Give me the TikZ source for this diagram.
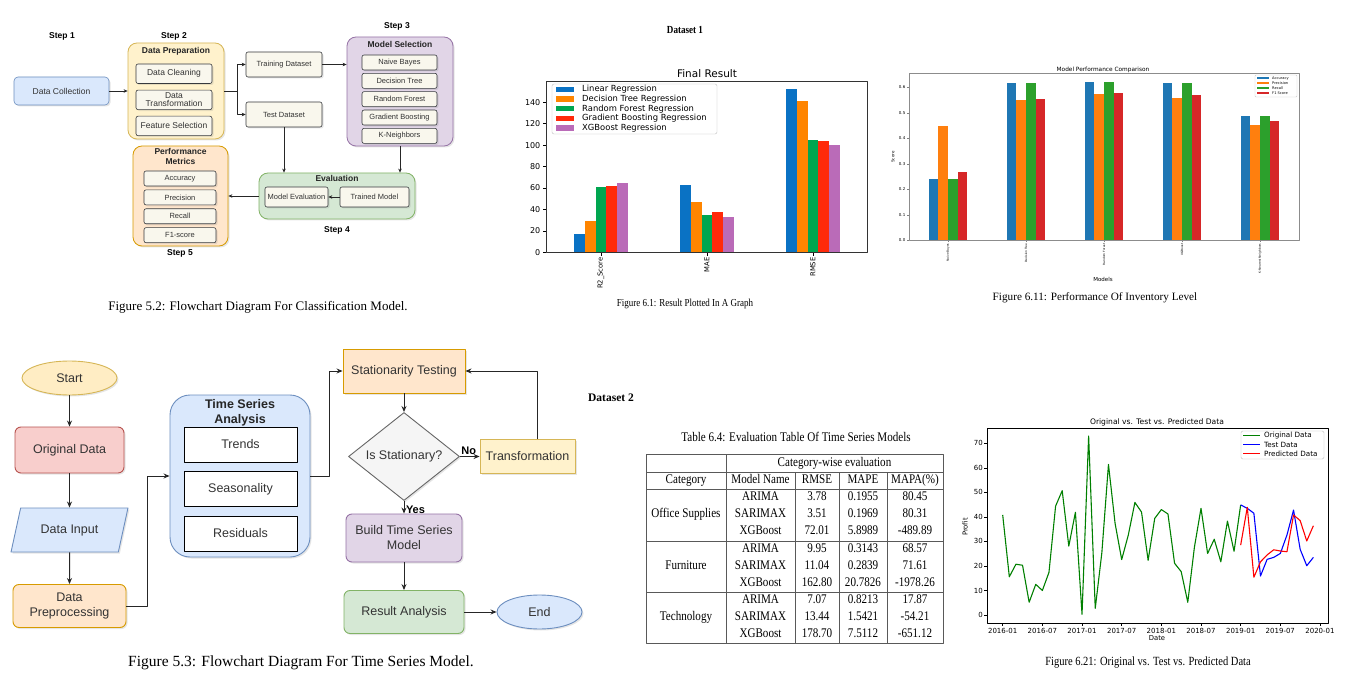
\documentclass[tikz,border=0pt]{standalone}
\usepackage{fontspec}
\setmainfont{Liberation Serif}
\setsansfont{Liberation Sans}
\newfontfamily\condserif[FakeStretch=0.84]{Liberation Serif}
\newfontfamily\plotfont{DejaVu Sans}
\usetikzlibrary{arrows.meta, positioning, shapes.geometric, shadows}

% draw.io colours
\definecolor{ioblue}{HTML}{DAE8FC}
\definecolor{iobluel}{HTML}{6C8EBF}
\definecolor{ioyellow}{HTML}{FFF2CC}
\definecolor{ioyellowl}{HTML}{D6B656}
\definecolor{iostart}{HTML}{FFEDC4}
\definecolor{ioorange}{HTML}{FFE6CC}
\definecolor{ioorangel}{HTML}{D79B00}
\definecolor{iopurple}{HTML}{E1D5E7}
\definecolor{iopurplel}{HTML}{9673A6}
\definecolor{iogreen}{HTML}{D5E8D4}
\definecolor{iogreenl}{HTML}{82B366}
\definecolor{iored}{HTML}{F8CECC}
\definecolor{ioredl}{HTML}{B85450}
\definecolor{iocream}{HTML}{F9F7ED}
\definecolor{iocreaml}{HTML}{36393D}
\definecolor{iogray}{HTML}{F5F5F5}
\definecolor{iograyl}{HTML}{666666}
\definecolor{iotext}{HTML}{333333}
% plot colours
\definecolor{rblue}{HTML}{0A72C4}
\definecolor{rorange}{HTML}{FF8500}
\definecolor{rgreen}{HTML}{00A650}
\definecolor{rred}{HTML}{FF2A0A}
\definecolor{rpurple}{HTML}{BA6BB8}
\definecolor{tblue}{HTML}{1F77B4}
\definecolor{torange}{HTML}{FF7F0E}
\definecolor{tgreen}{HTML}{2CA02C}
\definecolor{tred}{HTML}{D62728}
\definecolor{mgreen}{HTML}{008000}

\tikzset{
  dshadow/.style={drop shadow={opacity=0.2, shadow xshift=1.5pt, shadow yshift=-1.5pt}},
  block/.style={
    rectangle,
    draw=iocreaml,
    fill=iocream,
    rounded corners=2pt,
    text=iotext,
    inner sep=1pt,
    line width=0.6pt,
    font=\sffamily\fontsize{7.5}{9}\selectfont,
    dshadow
  },
  prepitem/.style={minimum width=76pt, minimum height=19.5pt, font=\sffamily\fontsize{8.5}{8.5}\selectfont},
  listitem/.style={minimum width=75pt, minimum height=15pt},
  metricitem/.style={minimum width=72pt, minimum height=15pt},
  container/.style={rectangle, rounded corners=9pt, line width=0.8pt, dshadow},
  boxtitle/.style={font=\sffamily\bfseries\fontsize{8.5}{9.5}\selectfont, text=black!85, inner sep=1pt},
  steplabel/.style={font=\sffamily\bfseries\fontsize{8.5}{10}\selectfont},
  arrow/.style={-{Stealth[length=4pt, width=3.5pt]}, line width=0.6pt, draw=black!85},
  tsnode/.style={
    draw,
    line width=0.9pt,
    text=iotext,
    inner sep=1pt,
    font=\sffamily\fontsize{12.5}{15}\selectfont,
    dshadow
  },
  tsitem/.style={rectangle, draw=black, fill=white, line width=1pt, minimum width=113pt, minimum height=35pt,
    text=iotext, font=\sffamily\fontsize{12.5}{15}\selectfont},
  tsarrow/.style={-{Stealth[length=6pt, width=5pt]}, line width=1pt, draw=black!85},
  yesno/.style={font=\sffamily\bfseries\fontsize{11}{13}\selectfont, inner sep=1.5pt},
  caption/.style={font=\rmfamily\fontsize{13}{15}\selectfont},
  condcaption/.style={font=\condserif\fontsize{12.5}{15}\selectfont},
  tabtext/.style={font=\condserif\fontsize{13.2}{15}\selectfont, text height=8.8pt, text depth=2.6pt, inner sep=0pt},
  tabline/.style={draw=black!65, line width=0.7pt},
  ticklabel/.style={font=\plotfont\fontsize{8}{9}\selectfont, inner sep=1pt}
}

\begin{document}
\begin{tikzpicture}[x=1pt, y=-1pt, >=Stealth, line join=round]
\fill[white] (0,0) rectangle (1350,679);
\useasboundingbox (0,0) rectangle (1350,679);

% --- Figure 5.2: classification flowchart ---
\node (step1) [steplabel] at (62,36) {Step 1};
\node (step2) [steplabel] at (174,36) {Step 2};
\node (step3) [steplabel] at (397,26) {Step 3};
\node (step4) [steplabel] at (337,230) {Step 4};
\node (step5) [steplabel] at (180,253) {Step 5};

\node (datacol) [block, fill=ioblue, draw=iobluel, rounded corners=4pt, minimum width=95pt, minimum height=28pt, font=\sffamily\fontsize{8.5}{10}\selectfont] at (61.5,91) {Data Collection};

\node (prep) [container, fill=ioyellow, draw=ioyellowl, minimum width=96pt, minimum height=96pt] at (176,91) {};
\node (preptitle) [boxtitle, below=3.5pt] at (prep.north) {Data Preparation};
\node (clean) [block, prepitem] at (174,73.75) {Data Cleaning};
\node (transform) [block, prepitem, below=6pt of clean, align=center] {Data\\Transformation};
\node (featsel) [block, prepitem, below=6pt of transform] {Feature Selection};

\node (train) [block, minimum width=76pt, minimum height=25pt] at (284,64.5) {Training Dataset};
\node (test) [block, minimum width=76pt, minimum height=25pt] at (284,114.5) {Test Dataset};

\node (modsel) [container, fill=iopurple, draw=iopurplel, minimum width=106pt, minimum height=109pt] at (400,91.5) {};
\node (modseltitle) [boxtitle, below=3.5pt] at (modsel.north) {Model Selection};
\node (nb) [block, listitem] at (399.5,62.5) {Naive Bayes};
\node (dt) [block, listitem, below=2.75pt of nb] {Decision Tree};
\node (rf) [block, listitem, below=2.75pt of dt] {Random Forest};
\node (gb) [block, listitem, below=2.75pt of rf] {Gradient Boosting};
\node (knn) [block, listitem, below=2.75pt of gb] {K-Neighbors};

\node (eval) [container, fill=iogreen, draw=iogreenl, minimum width=156pt, minimum height=46pt] at (337,196) {};
\node (evaltitle) [boxtitle, below=1.5pt] at (eval.north) {Evaluation};
\node (modeval) [block, minimum width=63pt, minimum height=20pt] at (296.5,197) {Model Evaluation};
\node (trained) [block, minimum width=69pt, minimum height=20pt] at (374.5,197) {Trained Model};

\node (perf) [container, fill=ioorange, draw=ioorangel, minimum width=95pt, minimum height=100pt] at (180.5,196) {};
\node (perftitle) [boxtitle, below=2pt, align=center] at (perf.north) {Performance\\Metrics};
\node (acc) [block, metricitem] at (180,178.5) {Accuracy};
\node (prec) [block, metricitem, below=3.3pt of acc] {Precision};
\node (rec) [block, metricitem, below=3.3pt of prec] {Recall};
\node (fone) [block, metricitem, below=3.3pt of rec] {F1-score};

\coordinate (split) at (237,91);
\draw[arrow] (datacol.east) -- (datacol.east -| prep.west);
\draw[line width=0.6pt, black!85] (prep.east) -- (split);
\draw[arrow] (split) |- (train.west);
\draw[arrow] (split) |- (test.west);
\draw[arrow] (train.east) -- (train.east -| modsel.west);
\draw[arrow] (test.south) -- (test.south |- eval.north);
\draw[arrow] (modsel.south) -- (modsel.south |- eval.north);
\draw[arrow] (trained.west) -- (modeval.east);
\draw[arrow] (eval.west) -- (perf.east);

\node (cap52) [caption] at (258,307) {Figure 5.2: Flowchart Diagram For Classification Model.};

% --- Figure 6.1: final result chart ---
\node (ds1) [font=\condserif\bfseries\fontsize{10.8}{13}\selectfont] at (685,30) {Dataset 1};
\node (frtitle) [font=\plotfont\fontsize{10.5}{12}\selectfont] at (707,74) {Final Result};
\begin{scope}[shift={(546,252.3)}, y=1.0714pt]
  \foreach \gx/\va/\vb/\vc/\vd/\ve in {55/17/29/61/61.5/64.5, 161/63/47/34.5/37.5/32.5, 267/152/141/104.5/104/100}
    \foreach \i/\v/\c in {0/\va/rblue, 1/\vb/rorange, 2/\vc/rgreen, 3/\vd/rred, 4/\ve/rpurple}
      \fill[\c] (\gx+\i*10.67-26.67,0) rectangle ++(10.67,\v);
  \foreach \v in {0,20,...,140} {
    \draw[line width=0.6pt] (0,\v) -- ++(-3.5,0);
    \node[ticklabel, anchor=east] at (-4.5,\v) {\v};
  }
  \foreach \gx/\lbl in {55/R2\_Score, 161/MAE, 267/RMSE} {
    \draw[line width=0.6pt] (\gx,0) -- ([yshift=-3.5pt]\gx,0);
    \node[rotate=90, anchor=east, inner sep=0pt, font=\plotfont\fontsize{6.8}{8}\selectfont] at ([yshift=-5pt]\gx,0) {\lbl};
  }
  \draw[line width=0.7pt, black!80] (0,0) rectangle (321,159.9);
\end{scope}
\draw[black!25, fill=white, rounded corners=2pt] (552,84) rectangle (717,134);
\foreach \ly/\c/\lbl [count=\k] in {89.3/rblue/Linear Regression, 99/rorange/Decision Tree Regression, 108.7/rgreen/Random Forest Regression, 118.4/rred/Gradient Boosting Regression, 128.1/rpurple/XGBoost Regression} {
  \fill[\c] (556,\ly-2.6) rectangle (574,\ly+2.6);
  \node (frleg\k) [anchor=west, font=\plotfont\fontsize{8.4}{10}\selectfont, inner sep=0pt] at (582,\ly) {\lbl};
}
\node (cap61) [font=\condserif\fontsize{10.7}{13}\selectfont] at (685,304) {Figure 6.1: Result Plotted In A Graph};

% --- Figure 6.11: model performance chart ---
\node (mpctitle) [font=\plotfont\fontsize{5.8}{7}\selectfont] at (1103,70) {Model Performance Comparison};
\begin{scope}[shift={(909,240.3)}, y=255pt]
  \foreach \gx/\va/\vb/\vc/\vd in {39/0.239/0.448/0.239/0.267, 117/0.617/0.550/0.617/0.555, 195/0.622/0.572/0.622/0.579, 273/0.617/0.559/0.617/0.570, 351/0.487/0.451/0.487/0.468}
    \foreach \i/\v/\c in {0/\va/tblue, 1/\vb/torange, 2/\vc/tgreen, 3/\vd/tred}
      \fill[\c] (\gx+\i*9.67-19.34,0) rectangle ++(9.67,\v);
  \foreach \k in {0,...,6} {
    \draw[black!50, line width=0.4pt] (0,\k/10) -- ++(-2,0);
    \node[anchor=east, font=\plotfont\fontsize{4}{5}\selectfont, inner sep=0.5pt] at (-3,\k/10) {0.\k};
  }
  \foreach \gx/\lbl in {39/Naive Bayes, 117/Decision Tree, 195/Random Forest, 273/XGBoost, 351/K-Nearest Neighbors} {
    \draw[black!50, line width=0.4pt] (\gx,0) -- ([yshift=-2pt]\gx,0);
    \node[rotate=90, anchor=east, font=\plotfont\fontsize{2.9}{4}\selectfont, inner sep=0pt] at ([yshift=-3pt]\gx,0) {\lbl};
  }
  \draw[black!45, line width=0.7pt] (0,0) rectangle (390,0.656);
\end{scope}
\draw[black!20, fill=white, rounded corners=1pt] (1255,75) rectangle (1297,97);
\foreach \ly/\c/\lbl [count=\k] in {78.3/tblue/Accuracy, 83.3/torange/Precision, 88.3/tgreen/Recall, 93.3/tred/F1 Score} {
  \fill[\c] (1257,\ly-1.2) rectangle (1269,\ly+1.2);
  \node (mpcleg\k) [anchor=west, font=\plotfont\fontsize{3.6}{4}\selectfont, inner sep=0pt] at (1272,\ly) {\lbl};
}
\node (mpcy) [rotate=90, font=\plotfont\fontsize{4}{5}\selectfont] at (893,157) {Score};
\node (mpcx) [font=\plotfont\fontsize{5.5}{6}\selectfont] at (1103,279) {Models};
\node (cap611) [font=\rmfamily\fontsize{11.2}{13}\selectfont] at (1095,298) {Figure 6.11: Performance Of Inventory Level};

% --- Figure 5.3: time series flowchart ---
\node (start) [ellipse, tsnode, fill=iostart, draw=ioyellowl, minimum width=95pt, minimum height=34pt, inner sep=0pt] at (69.5,378) {Start};
\node (origdata) [tsnode, rounded corners=6pt, fill=iored, draw=ioredl, minimum width=109pt, minimum height=46pt] at (69.5,450) {Original Data};
\node (datainput) [trapezium, trapezium left angle=66, trapezium right angle=114, trapezium stretches=true, tsnode, fill=ioblue, draw=iobluel, minimum width=117pt, minimum height=44pt] at (69.5,530) {Data Input};
\node (preproc) [tsnode, rounded corners=6pt, fill=ioorange, draw=ioorangel, minimum width=113pt, minimum height=43pt, align=center] at (69.5,606) {Data\\Preprocessing};

\node (tsa) [container, rounded corners=20pt, line width=0.9pt, fill=ioblue, draw=iobluel, minimum width=140pt, minimum height=162pt] at (240,476) {};
\node (tsatitle) [font=\sffamily\bfseries\fontsize{12.5}{15}\selectfont, text=black!85, below=1.5pt, align=center] at (tsa.north) {Time Series\\Analysis};
\node (trends) [tsitem] at (240.5,444.5) {Trends};
\node (season) [tsitem, below=8.5pt of trends] {Seasonality};
\node (resid) [tsitem, below=8.5pt of season] {Residuals};

\node (stattest) [tsnode, fill=ioorange, draw=ioorangel, minimum width=122pt, minimum height=44pt] at (404,371) {Stationarity Testing};
\node (isstat) [diamond, tsnode, fill=iogray, draw=iograyl, minimum width=111pt, minimum height=59pt, inner sep=0pt] at (404,456.5) {Is Stationary?};
\node (transf) [tsnode, fill=ioyellow, draw=ioyellowl, minimum width=95pt, minimum height=34pt] at (527.5,456.5) {Transformation};
\node (buildmodel) [tsnode, rounded corners=6pt, fill=iopurple, draw=iopurplel, minimum width=116pt, minimum height=48pt, align=center] at (404,538) {Build Time Series\\Model};
\node (resultan) [tsnode, rounded corners=6pt, fill=iogreen, draw=iogreenl, minimum width=120pt, minimum height=43pt] at (404,612) {Result Analysis};
\node (finish) [ellipse, tsnode, fill=ioblue, draw=iobluel, minimum width=85pt, minimum height=34pt, inner sep=0pt] at (539.5,612) {End};

\coordinate (bendA) at (147,476);
\coordinate (bendB) at (329,371);
\draw[tsarrow] (start) -- (origdata);
\draw[tsarrow] (origdata) -- (datainput);
\draw[tsarrow] (datainput) -- (preproc);
\draw[tsarrow] (preproc.east) -| (bendA) -- (tsa.west);
\draw[tsarrow] (tsa.east) -| (bendB) -- (stattest.west);
\draw[tsarrow] (stattest) -- (isstat);
\draw[tsarrow] (isstat) -- node[yesno, above, pos=0.45] {No} (transf);
\draw[tsarrow] ([xshift=10pt]transf.north) |- (stattest.east);
\draw[tsarrow] (isstat) -- node[yesno, right, pos=0.68] {Yes} (buildmodel);
\draw[tsarrow] (buildmodel) -- (resultan);
\draw[tsarrow] (resultan) -- (finish);

\node (cap53) [font=\rmfamily\fontsize{15.5}{18}\selectfont] at (301,663) {Figure 5.3: Flowchart Diagram For Time Series Model.};

% --- Table 6.4 ---
\node (ds2) [font=\rmfamily\bfseries\fontsize{11.5}{13}\selectfont] at (611,398) {Dataset 2};
\node (tabcap) [font=\condserif\fontsize{13.2}{15}\selectfont] at (796,437) {Table 6.4: Evaluation Table Of Time Series Models};
\draw[tabline] (646,454) rectangle (943,643);
\foreach \ly in {472,489,541,592} \draw[tabline] (646,\ly) -- (943,\ly);
\draw[tabline] (726,454) -- (726,643);
\foreach \cx in {795,839,887} \draw[tabline] (\cx,472) -- (\cx,643);
\node (tabhead) [tabtext] at (834.5,463) {Category-wise evaluation};
\foreach \cx/\txt [count=\k] in {686/Category, 760.5/Model Name, 817/RMSE, 863/MAPE, 915/MAPA(\%)}
  \node (head\k) [tabtext] at (\cx,480.5) {\txt};
\foreach \ry/\mname/\rmse/\mape/\mapa [count=\k] in {
  497.5/ARIMA/3.78/0.1955/80.45, 514.5/SARIMAX/3.51/0.1969/80.31, 531.5/XGBoost/72.01/5.8989/-489.89,
  549.5/ARIMA/9.95/0.3143/68.57, 566.5/SARIMAX/11.04/0.2839/71.61, 583.5/XGBoost/162.80/20.7826/-1978.26,
  600.5/ARIMA/7.07/0.8213/17.87, 617.5/SARIMAX/13.44/1.5421/-54.21, 634.5/XGBoost/178.70/7.5112/-651.12} {
  \node (mn\k) [tabtext] at (760.5,\ry) {\mname};
  \node (rm\k) [tabtext] at (817,\ry) {\rmse};
  \node (mp\k) [tabtext] at (863,\ry) {\mape};
  \node (ma\k) [tabtext] at (915,\ry) {\mapa};
}
\node (catos) [tabtext] at (686,514.5) {Office Supplies};
\node (catfu) [tabtext] at (686,566.5) {Furniture};
\node (catte) [tabtext] at (686,617.5) {Technology};

% --- Figure 6.21: original vs test vs predicted ---
\node (ovptitle) [font=\plotfont\fontsize{7.6}{9}\selectfont] at (1157,422) {Original vs. Test vs. Predicted Data};
\foreach \m/\lbl in {0/2016-01, 6/2016-07, 12/2017-01, 18/2017-07, 24/2018-01, 30/2018-07, 36/2019-01, 42/2019-07, 48/2020-01} {
  \draw[line width=0.6pt] ({1002.7+6.61*\m},623) -- ++(0,3);
  \node[font=\plotfont\fontsize{7}{8}\selectfont, inner sep=0pt] at ({1002.7+6.61*\m},630.5) {\lbl};
}
\foreach \v in {0,10,...,70} {
  \draw[line width=0.6pt] (987,{615-2.452*\v}) -- ++(-3,0);
  \node[anchor=east, font=\plotfont\fontsize{7}{8}\selectfont, inner sep=0pt] at (983,{615-2.452*\v}) {\v};
}
\begin{scope}[shift={(1002.7,615)}, x=6.61pt, y=2.452pt]
  \draw[mgreen, line width=1.1pt] plot coordinates {(0,40.8) (1,15.6) (2,20.7) (3,20.3) (4,5.2) (5,12.5) (6,10) (7,17.4) (8,44.4) (9,50.7) (10,28.1) (11,41.9) (12,0.3) (13,73) (14,2.7) (15,25.4) (16,61.4) (17,37.4) (18,22.6) (19,32.6) (20,45.9) (21,42) (22,22.3) (23,39.4) (24,43) (25,41.2) (26,21.1) (27,17.7) (28,5.2) (29,27.6) (30,43.5) (31,25.1) (32,30.9) (33,21.7) (34,38.3) (35,26) (36,44.9)};
  \draw[blue, line width=1.1pt] plot coordinates {(36,44.9) (37,43.5) (38,41.5) (39,15.9) (40,22.7) (41,23.5) (42,25.1) (43,32.6) (44,42.8) (45,26.8) (46,20.1) (47,23.5)};
  \draw[red, line width=1.1pt] plot coordinates {(36,28.5) (37,43.9) (38,15.4) (39,21.7) (40,24.5) (41,26.6) (42,26.1) (43,25.8) (44,40.8) (45,38.5) (46,30.2) (47,36.4)};
\end{scope}
\draw[line width=0.7pt] (987,428) rectangle (1328,623);
\draw[black!25, fill=white, rounded corners=1.5pt] (1241,431) rectangle (1324,459);
\foreach \ly/\c/\lbl [count=\k] in {435.5/mgreen/Original Data, 444.5/blue/Test Data, 453.5/red/Predicted Data} {
  \draw[\c, line width=1.1pt] (1243,\ly) -- (1260,\ly);
  \node (ovpleg\k) [anchor=west, font=\plotfont\fontsize{7.2}{8}\selectfont, inner sep=0pt] at (1264,\ly) {\lbl};
}
\node (ovpy) [rotate=90, font=\plotfont\fontsize{6.8}{8}\selectfont] at (965,527) {Profit};
\node (ovpx) [font=\plotfont\fontsize{6.8}{8}\selectfont] at (1157,638) {Date};
\node (cap621) [condcaption] at (1148,663) {Figure 6.21: Original vs. Test vs. Predicted Data};

\end{tikzpicture}
\end{document}
